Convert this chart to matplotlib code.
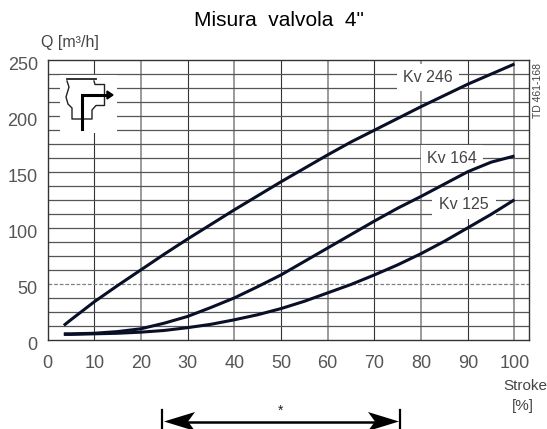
import matplotlib
matplotlib.use("Agg")
import matplotlib.pyplot as plt
from matplotlib.patches import Rectangle, Polygon
from matplotlib.transforms import ScaledTranslation

W, H = 547, 429
plt.rcParams['font.family'] = ['Liberation Sans', 'DejaVu Sans']

stroke = [3.5, 5, 10, 15, 20, 25, 30, 35, 40, 45, 50, 55, 60, 65, 70, 75, 80, 85, 90, 95, 100]
kv246 = [13, 18, 34, 48.5, 62.5, 76.5, 90, 103, 116, 128.5, 141, 153, 165, 176.5, 187, 197.5, 208, 218, 228, 237, 246]
kv164 = [5.5, 5.5, 6, 7.5, 10, 15, 21, 29, 37.5, 47.5, 58, 70, 82, 94, 106, 117.5, 128, 139, 150, 158.5, 164]
kv125 = [5, 5, 5.5, 6, 7, 8.5, 11, 14, 18, 22.5, 28, 34.5, 42, 49.5, 58, 67, 77, 88, 100, 112, 125]
x_ticks = [0, 10, 20, 30, 40, 50, 60, 70, 80, 90, 100]
y_ticks = [0, 50, 100, 150, 200, 250]
y_minor = [12.5, 25, 37.5, 62.5, 75, 87.5, 100, 112.5, 125, 137.5, 150, 162.5, 175, 187.5, 200, 212.5, 225, 237.5]
curve_labels = ["Kv 246", "Kv 164", "Kv 125"]

fig = plt.figure(figsize=(W / 100, H / 100), dpi=100)
ax = fig.add_axes([47.5 / W, 1 - 340 / H, 481 / W, 280.5 / H])
ax.set_xlim(0, 103)
ax.set_ylim(0, 250)
ax.set_xticks(x_ticks)
ax.set_yticks(y_ticks)
ax.tick_params(length=0, labelsize=13, labelcolor='#555555')
ax.tick_params(axis='x', pad=11)
ax.tick_params(axis='y', pad=7)
shift = ScaledTranslation(0, -3.5 / 100, fig.dpi_scale_trans)
for lab in ax.get_yticklabels():
    lab.set_transform(lab.get_transform() + shift)
for s in ax.spines.values():
    s.set_linewidth(1.0)
    s.set_color('#333333')

for i, x in enumerate(x_ticks[1:]):
    ax.axvline(x, color='#808080' if i % 2 else '#333333', lw=1.1 if i % 2 else 0.8, zorder=1)
for y in y_minor:
    ax.axhline(y, color='#555555', lw=0.9, zorder=1)
ax.axhline(50, color='#808080', lw=0.9, ls=(0, (3, 1.5)), zorder=1)


def fx(px):
    return px / W


def fy(py):
    return 1 - py / H


def axis_px(pts):
    return [((px - 47.5) / 481 * 103, (340 - py) / 280.5 * 250) for px, py in pts]


# icon panel sits above the grid, below the valve sketch
(px0, py0), (px1, py1) = axis_px([(60, 133), (117, 75)])
ax.add_patch(Rectangle((px0, py0), px1 - px0, py1 - py0, fc='white', ec='none', zorder=2))

ax.plot(stroke, kv246, color='#0a0f28', lw=2.2, zorder=4, solid_capstyle='butt')
ax.plot(stroke, kv164, color='#0a0f28', lw=2.2, zorder=4, solid_capstyle='butt')
ax.plot(stroke, kv125, color='#0a0f28', lw=2.2, zorder=4, solid_capstyle='butt')

box = dict(fc='white', ec='none', pad=4.5)
ax.text(81.5, 234, curve_labels[0], ha='center', va='center', fontsize=11.5, color='#444444', bbox=box, zorder=3)
ax.text(86.6, 162, curve_labels[1], ha='center', va='center', fontsize=11.5, color='#444444', bbox=box, zorder=3)
ax.text(89.2, 121, curve_labels[2], ha='center', va='center', fontsize=11.5, color='#444444', bbox=dict(fc='white', ec='none', pad=5), zorder=3)

icon_outer = [(67, 79.5), (96, 79.5)]
icon_body = [(67, 81), (69, 87), (66, 97), (68, 104), (72, 108), (72, 119), (92, 119), (92, 110),
             (96, 105.5), (104.5, 105.5), (104.5, 84.5), (95, 84.5), (94, 81)]
for pts, lw in ((icon_outer, 1.3), (icon_body, 1.0)):
    xs, ys = zip(*axis_px(pts))
    ax.plot(xs, ys, color='#222222', lw=lw, zorder=5)
xs, ys = zip(*axis_px([(81.5, 129), (81.5, 95), (108, 95)]))
ax.plot(xs, ys, color='black', lw=2.2, zorder=6, solid_joinstyle='miter')
xs, ys = zip(*axis_px([(107, 91), (113, 95), (107, 99)]))
ax.fill(xs, ys, color='black', zorder=6)

fig.text(fx(279), fy(21), 'Misura  valvola  4"', ha='center', va='center', fontsize=15, color='black')
fig.text(fx(41), fy(43), 'Q [m³/h]', ha='left', va='center', fontsize=11.5, color='#444444')
fig.text(fx(538), fy(90), 'TD 461-168', rotation=90, ha='center', va='center', fontsize=7.5, color='#444444')
fig.text(fx(525), fy(386), 'Stroke', ha='center', va='center', fontsize=11, color='#444444')
fig.text(fx(523), fy(406), '[%]', ha='center', va='center', fontsize=11, color='#444444')
fig.text(fx(281), fy(411), '*', ha='center', va='center', fontsize=10, color='#222222')

# stroke range arrow
overlay = fig.add_axes([0, 0, 1, 1], facecolor='none')
overlay.set_xlim(0, W)
overlay.set_ylim(H, 0)
overlay.axis('off')
overlay.plot([175, 385], [421.5, 421.5], color='black', lw=1.8)
overlay.add_patch(Polygon([(164, 421.5), (195, 412), (188, 421.5), (195, 431)], fc='black', ec='none'))
overlay.add_patch(Polygon([(399, 421.5), (368, 412), (375, 421.5), (368, 431)], fc='black', ec='none'))
overlay.plot([162, 162], [410, 428], color='black', lw=1.6)
overlay.plot([399.5, 399.5], [410, 428], color='black', lw=1.6)

fig.savefig('out.png', dpi=100)
